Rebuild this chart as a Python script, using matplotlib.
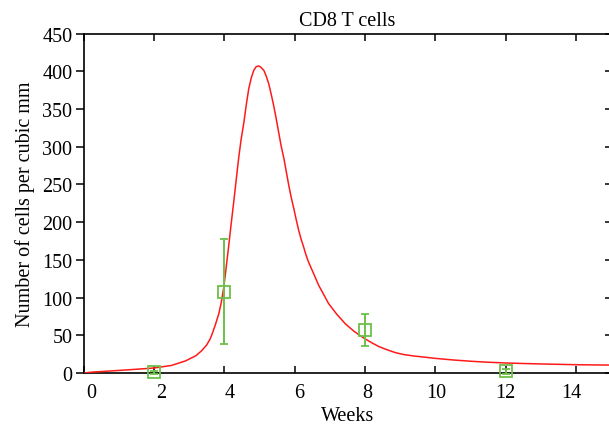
import matplotlib
matplotlib.use("Agg")
import matplotlib.pyplot as plt
from matplotlib.transforms import ScaledTranslation

# Model curve
curve_weeks = [0.0, 0.25, 0.6, 1.2, 2.0, 2.5, 2.9, 3.2, 3.37, 3.5, 3.6, 3.66, 3.75, 3.85, 3.92,
               3.99, 4.06, 4.13, 4.20, 4.27, 4.34, 4.41, 4.48, 4.56, 4.63, 4.70, 4.77, 4.84,
               4.91, 4.98, 5.05, 5.13, 5.20, 5.27, 5.34, 5.41, 5.48, 5.55, 5.62, 5.70, 5.77,
               5.84, 5.91, 5.98, 6.05, 6.12, 6.19, 6.26, 6.33, 6.40, 6.55, 6.69, 6.83, 6.97,
               7.2, 7.45, 7.7, 7.98, 8.2, 8.4, 8.65, 8.87, 9.1, 9.4, 9.7, 9.98,
               10.5, 11.04, 11.5, 12.0, 12.5, 13.0, 13.5, 14.0, 14.5, 15.0]
curve_cells = [0.0, 1.2, 2.2, 4.0, 6.6, 10.0, 16.0, 23.0, 30.0, 37.0, 45.0, 52.0, 64.0, 79.0, 94.0,
               114.0, 141.0, 169.0, 198.0, 226.0, 255.0, 284.0, 309.0, 332.0, 356.0, 377.0, 391.0, 401.0,
               406.0, 407.0, 405.0, 401.0, 393.0, 383.0, 369.0, 354.0, 337.0, 319.0, 301.0, 284.0, 266.0,
               248.0, 232.0, 218.0, 203.0, 189.0, 177.0, 167.0, 156.0, 147.0, 131.0, 116.0, 104.0, 92.0,
               78.0, 65.0, 55.0, 46.0, 40.0, 35.0, 30.5, 27.0, 24.5, 22.5, 21.0, 19.5,
               17.3, 15.5, 14.3, 13.3, 12.6, 12.0, 11.5, 11.0, 10.7, 10.5]

# Measured data
data_weeks = [2, 4, 8, 12]
data_cells = [1, 108, 57, 2]
data_err = [2, 70, 21, 3]

x_ticks = [0, 2, 4, 6, 8, 10, 12, 14]
y_ticks = [0, 50, 100, 150, 200, 250, 300, 350, 400, 450]

plt.rcParams['font.family'] = ['Liberation Serif', 'DejaVu Serif']
plt.rcParams['font.size'] = 14.5

fig = plt.figure(figsize=(6.09, 4.31), dpi=100)
ax = fig.add_axes([83.5 / 609, 57 / 431, (611 - 83.5) / 609, (374 - 34.5) / 431])

ax.plot(curve_weeks, curve_cells, color='#ff1a1a', lw=1.1, zorder=3)
ax.errorbar(data_weeks, data_cells, yerr=data_err, fmt='s', mfc='none',
            mec='#6cc04a', ecolor='#6cc04a', mew=1.3, ms=9, elinewidth=1.4,
            capsize=2.6, capthick=1.4, zorder=4, clip_on=False)

ax.set_xlim(0, 15)
ax.set_ylim(0, 450)
ax.set_xticks(x_ticks)
ax.set_yticks(y_ticks)

ax.tick_params(axis='x', direction='in', top=True, length=5, width=1.1, pad=7)
ax.tick_params(axis='y', direction='out', length=5.5, width=1.1, pad=2.5)

# right-hand ticks point inward
sec = ax.secondary_yaxis('right')
sec.set_yticks(y_ticks)
sec.tick_params(direction='in', length=4, width=1.1, labelright=False)
sec.spines['right'].set_linewidth(1.2)

for s in ax.spines.values():
    s.set_linewidth(1.2)

# small horizontal offsets of the x tick labels as in the reference
label_dx = [8, 7, 6, 5, 2, 1, 0, -4]
for lab, dx in zip(ax.get_xticklabels(), label_dx):
    lab.set_transform(lab.get_transform() + ScaledTranslation(dx / 100, 0, fig.dpi_scale_trans))

ax.set_title('CD8 T cells', fontsize=14.5, pad=6)
ax.set_xlabel('Weeks', labelpad=3)
ax.set_ylabel('Number of cells per cubic mm', labelpad=5)

fig.savefig('out.png', dpi=100)
